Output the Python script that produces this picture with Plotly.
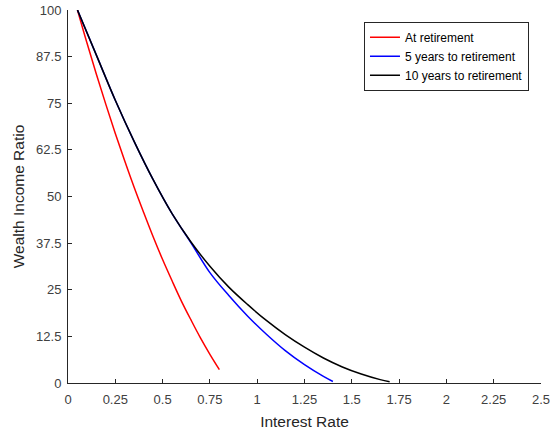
import plotly.graph_objects as go

# Data
red_x = [0.05, 0.10, 0.15, 0.20, 0.25, 0.30, 0.35, 0.40, 0.45, 0.50, 0.55, 0.60, 0.65, 0.70, 0.75, 0.80]
red_y = [100, 91.2, 82.8, 74.7, 66.9, 59.5, 52.4, 45.7, 39.2, 33.1, 27.4, 21.9, 16.9, 12.1, 7.7, 3.6]

blue_x = [0.05, 0.15, 0.25, 0.35, 0.45, 0.55, 0.65, 0.75, 0.85, 0.95, 1.05, 1.15, 1.25, 1.35, 1.40]
blue_y = [100, 87.9, 75.8, 64.7, 54.5, 45.4, 37.6, 29.6, 23.45, 17.9, 13.0, 8.6, 4.9, 1.75, 0.4]

black_x = [0.05, 0.15, 0.25, 0.35, 0.45, 0.55, 0.65, 0.75, 0.85, 0.95, 1.05, 1.15, 1.25, 1.35, 1.45, 1.55, 1.65, 1.70]
black_y = [100, 87.9, 75.8, 64.7, 54.5, 45.4, 37.8, 31.3, 25.7, 21.0, 16.7, 12.9, 9.6, 6.7, 4.3, 2.4, 0.9, 0.35]

series_names = ["At retirement", "5 years to retirement", "10 years to retirement"]
series_colors = ["#ff0000", "#0000ff", "#000000"]

x_ticks = [0, 0.25, 0.5, 0.75, 1, 1.25, 1.5, 1.75, 2, 2.25, 2.5]
x_tick_labels = ["0", "0.25", "0.5", "0.75", "1", "1.25", "1.5", "1.75", "2", "2.25", "2.5"]
y_ticks = [0, 12.5, 25, 37.5, 50, 62.5, 75, 87.5, 100]
y_tick_labels = ["0", "12.5", "25", "37.5", "50", "62.5", "75", "87.5", "100"]

FONT = "Liberation Sans, Arial, sans-serif"

fig = go.Figure()
for xs, ys, name, color in zip([red_x, blue_x, black_x], [red_y, blue_y, black_y],
                               series_names, series_colors):
    fig.add_trace(go.Scatter(x=xs, y=ys, mode="lines", name=name,
                             line=dict(color=color, width=1.5, shape="spline", smoothing=1.0)))

axis_common = dict(showline=True, linecolor="#262626", linewidth=1, ticks="inside",
                   ticklen=4, tickcolor="#262626", showgrid=False, zeroline=False,
                   tickfont=dict(family=FONT, size=13, color="#404040"),
                   mirror=False, automargin=False)

fig.update_layout(
    width=551, height=436,
    margin=dict(l=68, r=10, t=10, b=53),
    paper_bgcolor="white", plot_bgcolor="white",
    font=dict(family=FONT, color="#262626"),
    xaxis=dict(range=[0, 2.5], tickvals=x_ticks, ticktext=x_tick_labels,
               ticklabelstandoff=4,
               title=dict(text="Interest Rate", font=dict(size=15.5, color="#262626"), standoff=10),
               **axis_common),
    yaxis=dict(range=[0, 100], tickvals=y_ticks, ticktext=y_tick_labels,
               ticklabelstandoff=3,
               title=dict(text="Wealth Income Ratio", font=dict(size=15.5, color="#262626"), standoff=7),
               **axis_common),
    legend=dict(x=0.9746, y=0.9686, xanchor="right", yanchor="top",
                bgcolor="white", bordercolor="#262626", borderwidth=1,
                font=dict(family=FONT, size=12, color="#000000"), tracegroupgap=0,
                entrywidth=150, entrywidthmode="pixels"),
    showlegend=True,
)

fig.write_html("out.html")
